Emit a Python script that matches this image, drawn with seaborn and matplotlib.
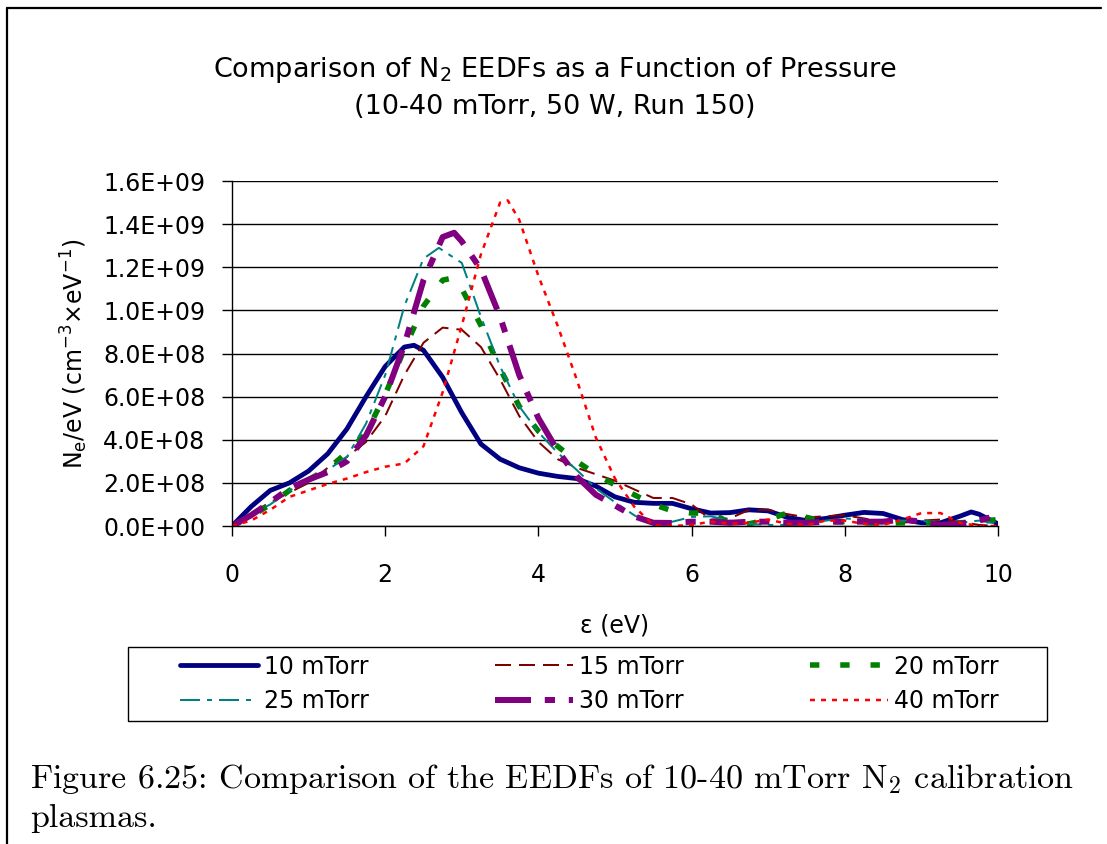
import matplotlib
matplotlib.use("Agg")
import matplotlib.pyplot as plt
from matplotlib.lines import Line2D
from matplotlib.patches import Rectangle
import seaborn as sns
import pandas as pd
import numpy as np

# ---------------- data (values in units of 1E8 cm^-3 eV^-1) ----------------
x_10 = [0, 0.25, 0.5, 0.75, 1.0, 1.25, 1.5, 1.75, 2.0, 2.25, 2.375, 2.5, 2.75, 3.0, 3.25, 3.5, 3.75, 4.0,
        4.25, 4.5, 4.75, 5.0, 5.25, 5.5, 5.75, 6.0, 6.25, 6.5, 6.75, 7.0, 7.25, 7.5, 7.75, 8.0, 8.25,
        8.5, 8.75, 9.0, 9.25, 9.5, 9.65, 9.75, 10.0]
y_10 = [0, 0.9, 1.65, 2.0, 2.55, 3.35, 4.5, 6.0, 7.4, 8.3, 8.38, 8.15, 6.9, 5.25, 3.8, 3.1, 2.7, 2.45,
        2.3, 2.2, 1.85, 1.35, 1.1, 1.05, 1.05, 0.8, 0.6, 0.62, 0.75, 0.7, 0.4, 0.25, 0.35, 0.5, 0.63,
        0.58, 0.3, 0.15, 0.15, 0.45, 0.65, 0.55, 0.1]

x_15 = [0, 0.25, 0.5, 0.75, 1.0, 1.25, 1.5, 1.75, 2.0, 2.25, 2.5, 2.75, 3.0, 3.25, 3.5, 3.75, 4.0,
        4.25, 4.5, 4.75, 5.0, 5.25, 5.5, 5.75, 6.0, 6.25, 6.5, 6.75, 7.0, 7.25, 7.5, 7.75, 8.0, 8.25,
        8.5, 8.75, 9.0, 9.25, 9.5, 9.75, 10.0]
y_15 = [0, 0.6, 1.1, 1.55, 2.0, 2.7, 3.2, 3.9, 5.1, 7.0, 8.5, 9.2, 9.1, 8.3, 6.8, 5.1, 3.9,
        3.1, 2.7, 2.4, 2.1, 1.7, 1.3, 1.3, 1.0, 0.3, 0.35, 0.75, 0.75, 0.55, 0.4, 0.45, 0.5, 0.35,
        0.2, 0.15, 0.25, 0.3, 0.2, 0.05, 0.0]

x_20 = [0, 0.25, 0.5, 0.75, 1.0, 1.25, 1.5, 1.75, 2.0, 2.25, 2.5, 2.75, 2.875, 3.0, 3.25, 3.5, 3.75, 4.0,
        4.25, 4.5, 4.75, 5.0, 5.25, 5.5, 5.75, 6.0, 6.25, 6.5, 6.75, 7.0, 7.25, 7.5, 7.75, 8.0, 8.25,
        8.5, 8.75, 9.0, 9.25, 9.5, 9.75, 10.0]
y_20 = [0, 0.45, 1.0, 1.65, 2.15, 2.65, 3.4, 4.3, 6.1, 8.2, 10.2, 11.4, 11.5, 11.0, 9.3, 7.3, 5.55, 4.4,
        3.7, 3.0, 2.4, 1.9, 1.45, 1.0, 0.7, 0.6, 0.6, 0.15, 0.1, 0.3, 0.6, 0.4, 0.2, 0.2, 0.15,
        0.12, 0.15, 0.15, 0.15, 0.15, 0.2, 0.3]

x_25 = [0, 0.25, 0.5, 0.75, 1.0, 1.25, 1.5, 1.75, 2.0, 2.25, 2.5, 2.7, 3.0, 3.25, 3.5, 3.75, 4.0,
        4.25, 4.5, 4.75, 5.0, 5.25, 5.5, 5.75, 6.0, 6.25, 6.5, 6.75, 7.0, 7.25, 7.5, 7.75, 8.0, 8.25,
        8.5, 8.75, 9.0, 9.25, 9.5, 9.75, 10.0]
y_25 = [0, 0.55, 1.0, 1.65, 2.1, 2.6, 3.2, 4.75, 7.0, 10.2, 12.4, 12.9, 12.2, 9.7, 7.4, 5.55, 4.35,
        3.4, 2.6, 1.75, 1.1, 0.5, 0.05, 0.2, 0.42, 0.45, 0.25, 0.1, 0.05, 0.05, 0.1, 0.25, 0.35, 0.3,
        0.2, 0.25, 0.25, 0.1, 0.15, 0.25, 0.1]

x_30 = [0, 0.25, 0.5, 0.75, 1.0, 1.25, 1.5, 1.75, 2.0, 2.25, 2.5, 2.75, 2.9, 3.0, 3.25, 3.5, 3.75, 4.0,
        4.25, 4.5, 4.75, 5.0, 5.25, 5.5, 5.75, 6.0, 6.25, 6.5, 6.75, 7.0, 7.25, 7.5, 7.75, 8.0, 8.25,
        8.5, 8.75, 9.0, 9.25, 9.5, 9.75, 10.0]
y_30 = [0, 0.5, 1.1, 1.75, 2.15, 2.5, 3.0, 4.2, 6.0, 8.4, 11.4, 13.4, 13.6, 13.2, 11.9, 9.7, 7.0, 5.0,
        3.5, 2.3, 1.45, 0.95, 0.45, 0.15, 0.14, 0.2, 0.2, 0.15, 0.2, 0.2, 0.15, 0.15, 0.2, 0.2, 0.2,
        0.2, 0.3, 0.2, 0.05, 0.1, 0.25, 0.5]

x_40 = [0, 0.25, 0.5, 0.75, 1.0, 1.25, 1.5, 1.75, 2.0, 2.25, 2.5, 2.75, 3.0, 3.25, 3.5, 3.6, 3.75, 4.0,
        4.25, 4.5, 4.75, 5.0, 5.25, 5.5, 5.75, 6.0, 6.25, 6.5, 6.75, 7.0, 7.25, 7.5, 7.75, 8.0, 8.25,
        8.5, 8.75, 9.0, 9.25, 9.5, 9.75, 10.0]
y_40 = [0, 0.25, 0.75, 1.35, 1.65, 1.95, 2.2, 2.5, 2.75, 2.9, 3.7, 6.2, 9.3, 12.6, 15.0, 15.1, 14.2, 11.6,
        9.3, 6.8, 4.1, 2.2, 0.9, 0.05, 0.0, 0.05, 0.2, 0.1, 0.15, 0.3, 0.1, 0.05, 0.25, 0.25, 0.1,
        0.05, 0.3, 0.6, 0.6, 0.15, 0.0, 0.0]

series_labels = ["10 mTorr", "15 mTorr", "20 mTorr", "25 mTorr", "30 mTorr", "40 mTorr"]
series_x = [x_10, x_15, x_20, x_25, x_30, x_40]
series_y = [y_10, y_15, y_20, y_25, y_30, y_40]
y_scale = 1e8

y_ticks = [0, 2e8, 4e8, 6e8, 8e8, 10e8, 12e8, 14e8, 16e8]
x_ticks = [0, 2, 4, 6, 8, 10]

# ---------------- styles ----------------
colors = {"10 mTorr": "#000080", "15 mTorr": "#800000", "20 mTorr": "#008000",
          "25 mTorr": "#008080", "30 mTorr": "#800080", "40 mTorr": "#FF0000"}
px = 0.72  # 1 pixel in points at dpi 100
widths = {"10 mTorr": 4.8 * px, "15 mTorr": 2.0 * px, "20 mTorr": 5.5 * px,
          "25 mTorr": 2.0 * px, "30 mTorr": 6.0 * px, "40 mTorr": 2.5 * px}
dashes = {"10 mTorr": "", "15 mTorr": (8, 4), "20 mTorr": (1.7, 3.8),
          "25 mTorr": (10, 3.5, 2.5, 3.5), "30 mTorr": (6.0, 2.3, 1.7, 2.3),
          "40 mTorr": (2.0, 2.4)}

rows = []
for lab, xs, ys in zip(series_labels, series_x, series_y):
    for xv, yv in zip(xs, ys):
        rows.append({"E": xv, "N": yv * y_scale, "series": lab})
df = pd.DataFrame(rows)

sns.set_theme(style="white")
plt.rcParams["font.family"] = ["DejaVu Sans"]

W, H = 1107, 844
fig = plt.figure(figsize=(W / 100, H / 100), dpi=100)
fig.patch.set_facecolor("white")
ax = fig.add_axes([232 / W, 1 - 526 / H, (998 - 232) / W, (526 - 181) / H])
ax.set_facecolor("white")

sns.lineplot(data=df, x="E", y="N", hue="series", style="series", size="series",
             hue_order=series_labels, style_order=series_labels, size_order=series_labels,
             palette=colors, dashes=dashes, sizes=widths, sort=False, estimator=None,
             legend=False, ax=ax)

ax.set_xlim(0, 10)
ax.set_ylim(0, 1.6e9)
ax.set_xticks(x_ticks)
ax.set_xticklabels([str(t) for t in x_ticks])
ax.set_yticks(y_ticks)
ax.set_yticklabels(["{:.1E}".format(t) for t in y_ticks])
ax.yaxis.grid(True, color="black", linewidth=1.0)
ax.xaxis.grid(False)
ax.set_axisbelow(True)
for side in ["top", "right"]:
    ax.spines[side].set_visible(False)
for side in ["left", "bottom"]:
    ax.spines[side].set_color("black")
    ax.spines[side].set_linewidth(1.0)
ax.tick_params(axis="both", which="major", direction="out", length=7, width=1.0,
               color="black", labelsize=17, labelcolor="black")
ax.tick_params(axis="y", pad=12, left=True)
ax.tick_params(axis="x", pad=20, bottom=True)

ax.set_xlabel("ε (eV)", fontsize=17, color="black")
ax.set_ylabel(r"N$\mathregular{_e}$/eV (cm$\mathregular{^{-3}}$×eV$\mathregular{^{-1}}$)",
              fontsize=17, color="black")
ax.xaxis.set_label_coords(0.5, (526 - 614) / 345)
ax.yaxis.set_label_coords((90 - 232) / 766, 0.5)

# titles
fig.text(555 / W, 1 - 70 / H, r"Comparison of N$\mathregular{_2}$ EEDFs as a Function of Pressure",
         ha="center", va="center", fontsize=19.5, color="black")
fig.text(555 / W, 1 - 107 / H, "(10-40 mTorr, 50 W, Run 150)",
         ha="center", va="center", fontsize=19.5, color="black")

# legend
handles = []
for l in series_labels:
    h = Line2D([0], [0], color=colors[l], lw=widths[l], linestyle="-")
    if dashes[l]:
        h.set_dashes(dashes[l])
    handles.append(h)
order = [0, 3, 1, 4, 2, 5]
leg = fig.legend([handles[i] for i in order], [series_labels[i] for i in order],
                 ncol=3, mode="expand", loc="center",
                 bbox_to_anchor=(175 / W, 1 - 721 / H, (1003 - 175) / W, 74 / H),
                 frameon=False, borderaxespad=0, borderpad=0.2, fontsize=17,
                 handlelength=3.3, handletextpad=0.25, labelspacing=0.45)
for t in leg.get_texts():
    t.set_color("black")
fig.patches.append(Rectangle((128 / W, 1 - 721 / H), (1047 - 128) / W, 74 / H,
                             transform=fig.transFigure, facecolor="none",
                             edgecolor="black", linewidth=1.0))

# page frame
fig.add_artist(Line2D([7 / W, 7 / W], [0, 1 - 8 / H], transform=fig.transFigure,
                      color="black", lw=1.6))
fig.add_artist(Line2D([7 / W, 1101 / W], [1 - 8 / H, 1 - 8 / H], transform=fig.transFigure,
                      color="black", lw=1.6))

# caption
cap_font = ["cmr10", "DejaVu Serif"]
fig.text(30 / W, 1 - 788 / H,
         r"Figure 6.25: Comparison of the EEDFs of 10-40 mTorr N$\mathregular{_2}$ calibration",
         ha="left", va="baseline", fontsize=24.5, family=cap_font, color="black")
fig.text(30 / W, 1 - 827 / H, "plasmas.", ha="left", va="baseline", fontsize=24.5,
         family=cap_font, color="black")

fig.savefig("out.png", dpi=100, facecolor="white")
